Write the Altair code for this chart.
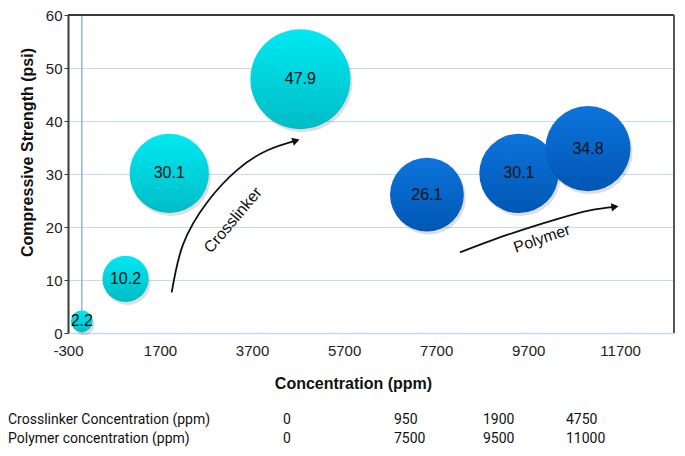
import altair as alt
import pandas as pd

# ---------------- data ----------------
crosslinker_conc = [0, 950, 1900, 4750]
polymer_conc = [0, 7500, 9500, 11000]
crosslinker_strength = [2.2, 10.2, 30.1, 47.9]
polymer_strength = [26.1, 30.1, 34.8]          # at polymer_conc[1:]

x_ticks = [-300, 1700, 3700, 5700, 7700, 9700, 11700]
y_ticks = [0, 10, 20, 30, 40, 50, 60]
x_domain = [-300, 12870]
y_domain = [0, 60]

table_rows = ["Crosslinker Concentration (ppm)", "Polymer concentration (ppm)"]

# annotation arrows (data coordinates)
arrow_cross_x = [1954, 2199, 2721, 3373, 4025, 4655]
arrow_cross_y = [7.65, 16.67, 24.63, 30.74, 34.44, 36.3]
arrow_poly_x = [8219, 9240, 10327, 11044, 11587]
arrow_poly_y = [15.2, 18.5, 21.5, 23.15, 23.8]
head_angle = [341, 352]
ann_labels = ["Crosslinker", "Polymer"]
ann_x = [3286, 10001]
ann_y = [21.3, 17.8]
ann_angle = [310, 341]

# ---------------- layout ----------------
W, H = 606, 318
FONT = "Liberation Sans"
GRID = "#C6D9F1"
DARK = "#3A3A3A"

xs = alt.Scale(domain=x_domain, nice=False, zero=False)
ys = alt.Scale(domain=y_domain, nice=False, zero=False)

x_axis = alt.Axis(values=x_ticks, title="Concentration (ppm)", grid=False, ticks=False,
                  labelExpr="datum.value + ''",
                  domainColor=GRID, domainWidth=1.5, labelFont=FONT, labelFontSize=15,
                  labelColor="#222", labelPadding=10, labelFlush=False,
                  titleFont=FONT, titleFontSize=16, titleFontWeight="bold",
                  titleColor="#111", titleX=285, titleY=50, titleBaseline="middle",
                  titleAnchor="middle")
y_axis = alt.Axis(values=y_ticks, title="Compressive Strength (psi)", grid=True,
                  labelExpr="datum.value + ''",
                  gridColor=GRID, gridWidth=1, domainColor=DARK, domainWidth=2,
                  tickColor=DARK, tickSize=4, labelFont=FONT, labelFontSize=15,
                  labelColor="#222", labelPadding=2, labelFlush=False,
                  titleFont=FONT, titleFontSize=16, titleFontWeight="bold",
                  titleColor="#111", titleX=-41, titleY=137, titleBaseline="middle",
                  titleAnchor="middle")

# bubble area proportional to value; Vega symbol size = (diameter)^2
size_scale = alt.Scale(type="linear", domain=[0, 47.9], range=[0, 10000], zero=True)

cyan_grad = alt.Gradient(gradient="linear", x1=0, x2=0, y1=0, y2=1,
                         stops=[alt.GradientStop(color="#00E9F2", offset=0),
                                alt.GradientStop(color="#00BCC6", offset=1)])
blue_grad = alt.Gradient(gradient="linear", x1=0, x2=0, y1=0, y2=1,
                         stops=[alt.GradientStop(color="#0D74DC", offset=0),
                                alt.GradientStop(color="#0057B4", offset=1)])

cyan_df = pd.DataFrame({"x": crosslinker_conc, "y": crosslinker_strength})
blue_df = pd.DataFrame({"x": polymer_conc[1:], "y": polymer_strength})

# vertical blue line at x = 0
vline = alt.Chart(pd.DataFrame({"x": [0]})).mark_rule(color="#8DB4E2", strokeWidth=1.5).encode(
    x=alt.X("x:Q", scale=xs, axis=x_axis)
)

def shadows(df):
    return alt.Chart(df).mark_circle(color="#000000", opacity=0.13, xOffset=2, yOffset=3).encode(
        x=alt.X("x:Q", scale=xs),
        y=alt.Y("y:Q", scale=ys),
        size=alt.Size("y:Q", scale=size_scale, legend=None),
    )

def bubbles(df, grad):
    return alt.Chart(df).mark_circle(fill=grad, opacity=1, strokeWidth=0).encode(
        x=alt.X("x:Q", scale=xs, axis=x_axis),
        y=alt.Y("y:Q", scale=ys, axis=y_axis),
        size=alt.Size("y:Q", scale=size_scale, legend=None),
    )

def labels(df):
    return alt.Chart(df).mark_text(fontSize=16, color="#111", font=FONT).encode(
        x=alt.X("x:Q", scale=xs),
        y=alt.Y("y:Q", scale=ys),
        text=alt.Text("y:Q", format=".1f"),
    )

def arrow(xv, yv, ang):
    df = pd.DataFrame({"x": xv, "y": yv})
    line = alt.Chart(df).mark_line(color="#111", strokeWidth=1.8, interpolate="natural").encode(
        x=alt.X("x:Q", scale=xs), y=alt.Y("y:Q", scale=ys)
    )
    hd = pd.DataFrame({"x": [xv[-1]], "y": [yv[-1]], "a": [ang]})
    head = alt.Chart(hd).mark_point(shape="triangle-right", filled=True, size=70,
                                    color="#111", opacity=1).encode(
        x=alt.X("x:Q", scale=xs), y=alt.Y("y:Q", scale=ys),
        angle=alt.Angle("a:Q", scale=None),
    )
    return line + head

ann_df = pd.DataFrame({"x": ann_x, "y": ann_y, "t": ann_labels, "a": ann_angle})
ann = alt.Chart(ann_df).mark_text(fontSize=16, color="#111", font=FONT).encode(
    x=alt.X("x:Q", scale=xs), y=alt.Y("y:Q", scale=ys), text="t:N",
    angle=alt.Angle("a:Q", scale=None),
)

frame_df = pd.DataFrame({"k": [0]})
top_line = alt.Chart(frame_df).mark_rule(color=DARK, strokeWidth=2).encode(
    x=alt.value(0), x2=alt.value(W), y=alt.value(0))
right_line = alt.Chart(frame_df).mark_rule(color="#555555", strokeWidth=2).encode(
    x=alt.value(W), y=alt.value(0), y2=alt.value(H))

# table below the chart
col_x = [-60, 215, 326, 415, 498]
col_text = ["\n".join(table_rows)] + [
    f"{c}\n{p}" for c, p in zip(crosslinker_conc, polymer_conc)
]
table_layers = []
for cx, txt in zip(col_x, col_text):
    table_layers.append(
        alt.Chart(pd.DataFrame({"t": [txt]})).mark_text(
            align="left", baseline="middle", fontSize=14, font="Roboto",
            color="#111", lineBreak="\n", lineHeight=19,
        ).encode(x=alt.value(cx), y=alt.value(405), text="t:N")
    )

chart = alt.layer(
    vline,
    shadows(cyan_df), bubbles(cyan_df, cyan_grad),
    shadows(blue_df), bubbles(blue_df, blue_grad),
    labels(cyan_df), labels(blue_df),
    arrow(arrow_cross_x, arrow_cross_y, head_angle[0]),
    arrow(arrow_poly_x, arrow_poly_y, head_angle[1]),
    ann, top_line, right_line, *table_layers,
).properties(
    width=W, height=H,
    autosize=alt.AutoSizeParams(type="none"),
    padding={"left": 60, "top": 7, "right": 3, "bottom": 115},
).configure(font=FONT).configure_view(stroke=None)

chart.save("out.html", embed_options={"renderer": "svg", "actions": False})
